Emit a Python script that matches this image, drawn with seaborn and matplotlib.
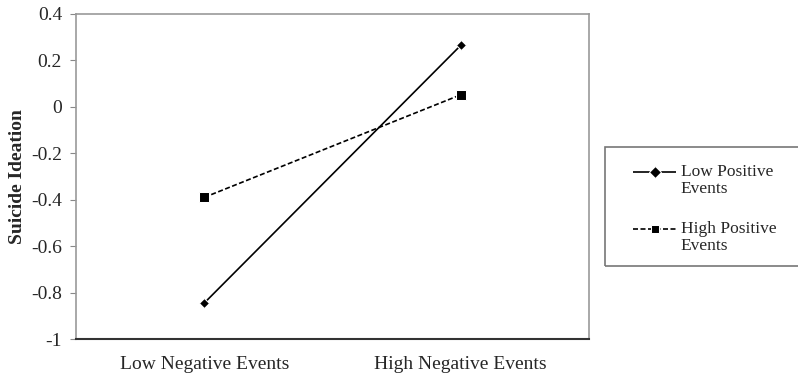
import matplotlib
matplotlib.use("Agg")
import matplotlib.pyplot as plt
import seaborn as sns
import pandas as pd
import numpy as np
from matplotlib.patches import Rectangle
from matplotlib.lines import Line2D

categories = ["Low Negative Events", "High Negative Events"]
low_positive = [-0.845, 0.265]
high_positive = [-0.39, 0.052]
series_names = ["Low Positive\nEvents", "High Positive\nEvents"]

df = pd.DataFrame({
    "x": list(range(len(categories))) * 2,
    "y": low_positive + high_positive,
    "series": [series_names[0]] * 2 + [series_names[1]] * 2,
})

sns.set_style("white")
plt.rcParams["font.family"] = ["Liberation Serif", "DejaVu Serif"]

W, H = 798, 377
fig = plt.figure(figsize=(W/100, H/100), dpi=100)
ax = fig.add_axes([76/W, 38/H, (589-76)/W, (339-14)/H])

sns.lineplot(data=df, x="x", y="y", hue="series", style="series",
             palette=["black", "black"], dashes=[(1, 0), (3, 1.5)],
             markers=["D", "s"], markersize=6, linewidth=1.2,
             ax=ax, legend=True)
for ln, ms in zip(ax.lines, [5, 7]):
    ln.set_markersize(ms)

ax.set_xlim(-0.5, 1.5)
ax.set_ylim(-1, 0.4)
ax.set_yticks([0.4, 0.2, 0, -0.2, -0.4, -0.6, -0.8, -1])
ax.set_yticklabels(["0.4", "0.2", "0", "-0.2", "-0.4", "-0.6", "-0.8", "-1"], fontsize=14)
ax.set_xticks([0, 1])
ax.set_xticklabels(categories, fontsize=14)
ax.set_xticks([0.5], minor=True)
ax.tick_params(axis="x", which="major", length=0, pad=12)
ax.tick_params(axis="x", which="minor", length=4, direction="in", color="#444444")
ax.tick_params(axis="y", length=4, direction="out", color="#888888", left=True, pad=6)
ax.set_xlabel("")
ax.set_ylabel("Suicide Ideation", fontsize=14, fontweight="bold", labelpad=4)

for side in ["top", "right", "left"]:
    ax.spines[side].set_color("#999999")
    ax.spines[side].set_linewidth(1.2)
ax.spines["bottom"].set_color("#333333")
ax.spines["bottom"].set_linewidth(1.5)

handles, labels = ax.get_legend_handles_labels()
ax.legend_.remove()
fig.patches.append(Rectangle((605/W, (H-266)/H), (810-605)/W, (266-147)/H,
                             transform=fig.transFigure, fill=False,
                             edgecolor="#777777", linewidth=1.2))
leg = fig.legend(handles, labels, loc="upper left",
                 bbox_to_anchor=(633/W, (H-164)/H),
                 frameon=False, fontsize=12.5, borderpad=0, borderaxespad=0,
                 handlelength=2.5, labelspacing=1.4, handletextpad=0.25)
for t in leg.get_texts():
    t.set_linespacing(1.05)
for ln in leg.findobj(Line2D):
    yd = np.asarray(ln.get_ydata(), dtype=float)
    ln.set_ydata(yd + 6.0)

fig.savefig("out.png", dpi=100)
